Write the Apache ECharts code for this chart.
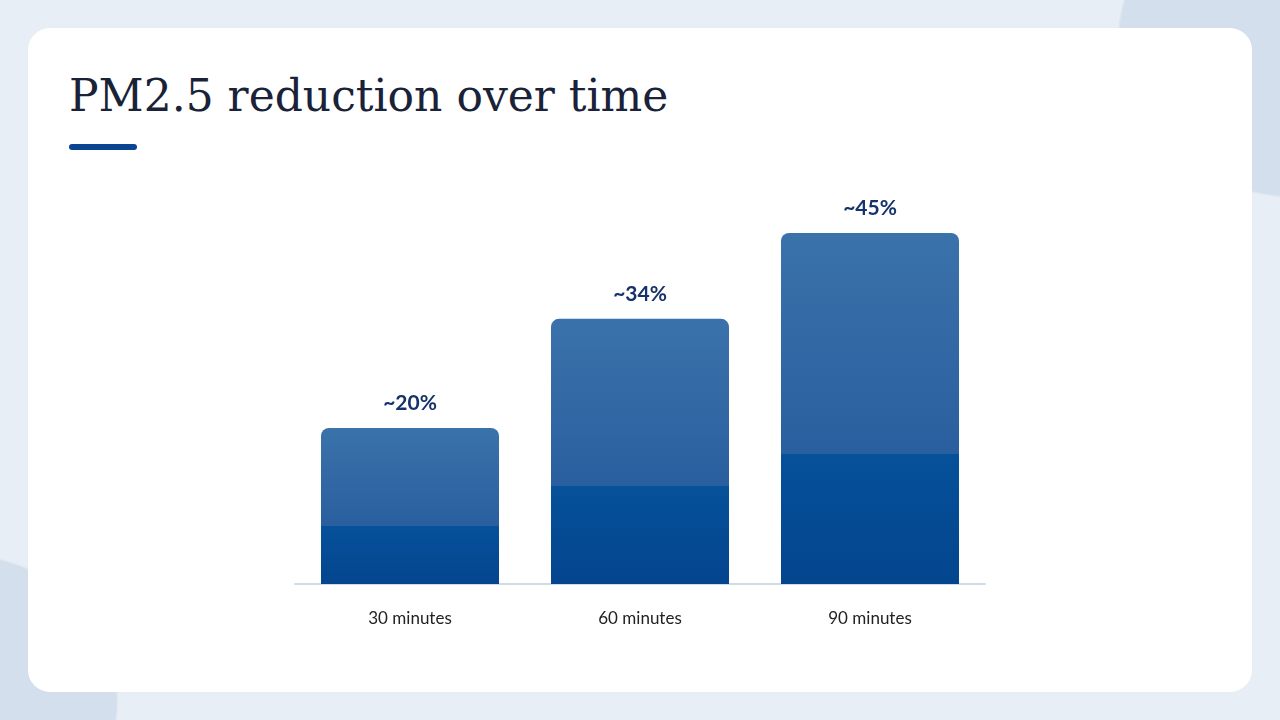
<!DOCTYPE html>
<html><head><meta charset="utf-8">
<script src="https://cdn.jsdelivr.net/npm/echarts@6/dist/echarts.min.js"></script>
<style>
html,body{margin:0;padding:0;width:1280px;height:720px;overflow:hidden;background:#e6ecf3;}
#bg{position:absolute;left:0;top:0;width:1280px;height:720px;
background:
radial-gradient(ellipse 300px 260px at 1300px 40px,#d3dfec 60%,transparent 61%),
radial-gradient(ellipse 260px 240px at -40px 700px,#d3dfec 60%,transparent 61%),
#e8eef5;}
#card{position:absolute;left:28px;top:28px;width:1224px;height:664px;background:#fff;border-radius:22px;}
#title{position:absolute;left:69px;top:70px;font-family:"DejaVu Serif","Liberation Serif",serif;font-size:44px;color:#1a2238;font-weight:normal;letter-spacing:0px;}
#uline{position:absolute;left:69px;top:144px;width:68px;height:6px;border-radius:3px;background:#0b4592;}
#chart{position:absolute;left:0;top:0;width:1280px;height:720px;}
</style></head>
<body>
<div id="bg"></div><div id="card"></div>
<div id="title">PM2.5 reduction over time</div><div id="uline"></div>
<div id="chart"></div>
<script>
const categories = ["30 minutes","60 minutes","90 minutes"];
const values = [20,34,45];
const labels = ["~20%","~34%","~45%"];
const c = echarts.init(document.getElementById('chart'));
c.setOption({
  animation:false,
  grid:{left:295,right:295,top:194,bottom:136},
  xAxis:{type:'category',data:categories,
    axisLine:{lineStyle:{color:'#cfdbe6',width:2}},axisTick:{show:false},
    axisLabel:{margin:26,color:'#222',fontSize:17,fontFamily:'Lato, "Noto Sans", sans-serif'}},
  yAxis:{type:'value',min:0,max:50,show:false,splitLine:{show:false}},
  series:[{type:'bar',data:values,barWidth:178,
    itemStyle:{borderRadius:[8,8,0,0],
      color:new echarts.graphic.LinearGradient(0,0,0,1,[
        {offset:0,color:'#3a72aa'},{offset:0.63,color:'#2a5f9f'},
        {offset:0.63,color:'#05519a'},{offset:1,color:'#04458e'}])},
    label:{show:true,position:'top',distance:14,color:'#15326a',fontSize:21,fontWeight:'bold',
      fontFamily:'Lato, "Noto Sans", sans-serif',formatter:p=>labels[p.dataIndex]}}]
});
</script>
</body></html>
